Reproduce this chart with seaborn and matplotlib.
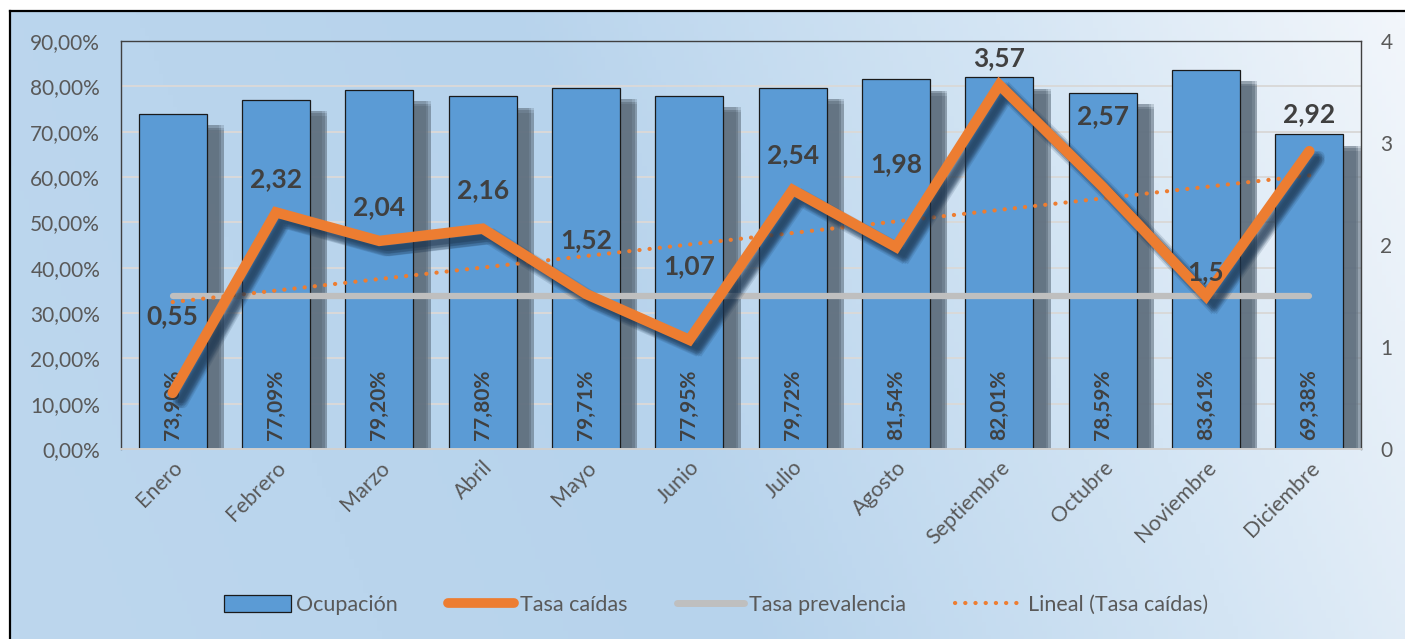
"""Ocupación mensual vs. tasa de caídas (barras + líneas, doble eje)."""

import matplotlib
matplotlib.use("Agg")

import matplotlib.patheffects as pe
import matplotlib.pyplot as plt
import numpy as np
import seaborn as sns
from matplotlib.colors import LinearSegmentedColormap
from matplotlib.lines import Line2D
from matplotlib.patches import Patch

MONTHS = ["Enero", "Febrero", "Marzo", "Abril", "Mayo", "Junio", "Julio",
          "Agosto", "Septiembre", "Octubre", "Noviembre", "Diciembre"]
OCUPACION = [73.90, 77.09, 79.20, 77.80, 79.71, 77.95, 79.72,
             81.54, 82.01, 78.59, 83.61, 69.38]
TASA_CAIDAS = [0.55, 2.32, 2.04, 2.16, 1.52, 1.07, 2.54,
               1.98, 3.57, 2.57, 1.5, 2.92]
TASA_PREVALENCIA = [1.5] * 12

# vertical offset (points) of each "Tasa caídas" label above its point
_LABEL_DY = [55, 24, 24, 28, 39, 53, 25, 60, 19, 51, 17, 27]

_BLUE   = "#5b9bd5"
_ORANGE = "#ed7d31"
_GRAY   = "#bfbfbf"
_TEXT   = "#595959"
_DARK   = "#404040"

W, H, DPI = 1405, 639, 100


def _fmt_pct(v: float) -> str:
    return f"{v:.2f}".replace(".", ",") + "%"


def _fmt_num(v: float) -> str:
    return f"{v:g}".replace(".", ",")


def _soft_shadow(offset, color, alpha, spread, line=False):
    """Stack a few offset shadows to fake a blurred drop shadow."""
    effects = []
    steps = [-spread, 0, spread]
    for dx in steps:
        for dy in steps:
            off = (offset[0] + dx, offset[1] + dy)
            if line:
                effects.append(pe.SimpleLineShadow(offset=off, shadow_color=color,
                                                   alpha=alpha))
            else:
                effects.append(pe.SimplePatchShadow(offset=off, shadow_rgbFace=color,
                                                    alpha=alpha))
    return effects + [pe.Normal()]


sns.set_theme(style="white")
plt.rcParams["font.family"] = ["Lato", "DejaVu Sans"]

fig = plt.figure(figsize=(W / DPI, H / DPI), dpi=DPI)

# ---------------------------------------------------------------------------
# Background panel with gradient + outer border
# ---------------------------------------------------------------------------
bg = fig.add_axes([10 / W, 0, 1 - 10 / W, (H - 11) / H], zorder=-10)
cmap = LinearSegmentedColormap.from_list(
    "bg", [(0.0, "#bdd7ee"), (0.45, "#b7d3ec"), (0.75, "#d4e5f4"), (1.0, "#f2f6fb")]
)
gx, gy = np.meshgrid(np.linspace(0, 1, 300), np.linspace(0, 1, 150))
grad = np.clip(0.85 * gx + 0.15 * gy, 0, 1)
bg.imshow(grad, cmap=cmap, aspect="auto", origin="lower", extent=[0, 1, 0, 1])
bg.set_xticks([])
bg.set_yticks([])
for side in ("right", "bottom"):
    bg.spines[side].set_visible(False)
for side in ("top", "left"):
    bg.spines[side].set_color("black")
    bg.spines[side].set_linewidth(1.6)

# ---------------------------------------------------------------------------
# Bars: Ocupación (left axis)
# ---------------------------------------------------------------------------
ax = fig.add_axes([121 / W, 1 - 449 / H, (1361 - 121) / W, (449 - 41) / H])
ax.patch.set_alpha(0)

sns.barplot(x=MONTHS, y=OCUPACION, color=_BLUE, saturation=1, width=0.66,
            edgecolor="#1a1a1a", linewidth=0.9, ax=ax)
for bar in ax.patches:
    bar.set_path_effects(_soft_shadow((10.5, -10), "#5f6f7e", 0.26, 1.8))

for i, v in enumerate(OCUPACION):
    ax.text(i, 2.0, _fmt_pct(v), rotation=90, ha="center", va="bottom",
            fontsize=15, fontweight="bold", color=_DARK)

ax.set_ylim(0, 90)
ax.set_xlim(-0.5, 11.5)
ax.set_yticks(np.arange(0, 91, 10))
ax.set_yticklabels([_fmt_pct(t) for t in np.arange(0, 91, 10)])
ax.yaxis.grid(True, color="#d9d9d9", linewidth=1.4)
ax.set_axisbelow(True)
ax.tick_params(axis="y", length=0, pad=15, labelsize=15, labelcolor=_TEXT)
ax.tick_params(axis="x", length=0, pad=6, labelsize=15.5, labelcolor=_TEXT)
plt.setp(ax.get_xticklabels(), rotation=45, ha="right", rotation_mode="anchor")
ax.set_xlabel("")
ax.set_ylabel("")
for side in ("top", "left", "right"):
    ax.spines[side].set_color(_DARK)
    ax.spines[side].set_linewidth(1.0)
ax.spines["bottom"].set_color("#d0d0d0")
ax.spines["bottom"].set_linewidth(1.4)

# ---------------------------------------------------------------------------
# Lines: Tasa caídas, Tasa prevalencia, linear trend (right axis)
# ---------------------------------------------------------------------------
ax2 = ax.twinx()
idx = np.arange(len(MONTHS))

_DOTS = (0, (0.05, 2.4))

sns.lineplot(x=idx, y=TASA_PREVALENCIA, color=_GRAY, linewidth=4.5,
             solid_capstyle="round", ax=ax2)
sns.regplot(x=idx, y=TASA_CAIDAS, scatter=False, ci=None, truncate=True,
            line_kws={"color": _ORANGE, "linewidth": 3.0, "linestyle": _DOTS,
                      "dash_capstyle": "round"}, ax=ax2)
sns.lineplot(x=idx, y=TASA_CAIDAS, color=_ORANGE, linewidth=7.5,
             solid_capstyle="round", solid_joinstyle="miter", ax=ax2)
ax2.lines[-1].set_path_effects(_soft_shadow((5.5, -5.5), "#1c3550", 0.15, 1.8, line=True))

for i, (v, dy) in enumerate(zip(TASA_CAIDAS, _LABEL_DY)):
    ax2.annotate(_fmt_num(v), (i, v), xytext=(0, dy), textcoords="offset points",
                 ha="center", va="center", fontsize=19, fontweight="bold",
                 color=_DARK)

ax2.set_ylim(0, 4)
ax2.set_xlim(-0.5, 11.5)
ax2.set_yticks(range(5))
ax2.set_yticklabels([str(t) for t in range(5)])
ax2.tick_params(axis="y", length=0, pad=14, labelsize=15, labelcolor=_TEXT)
ax2.set_xlabel("")
ax2.set_ylabel("")
for spine in ax2.spines.values():
    spine.set_visible(False)

# ---------------------------------------------------------------------------
# Legend
# ---------------------------------------------------------------------------
handles = [
    Patch(facecolor=_BLUE, edgecolor="#1a1a1a", linewidth=0.9),
    Line2D([], [], color=_ORANGE, linewidth=7, solid_capstyle="round"),
    Line2D([], [], color=_GRAY, linewidth=5, solid_capstyle="round"),
    Line2D([], [], color=_ORANGE, linewidth=3.0, linestyle=_DOTS,
           dash_capstyle="round"),
]
labels = ["Ocupación", "Tasa caídas", "Tasa prevalencia", "Lineal (Tasa caídas)"]
fig.legend(handles, labels, loc="center", bbox_to_anchor=(716 / W, 1 - 605 / H),
           ncol=4, frameon=False, fontsize=15.5, labelcolor=_TEXT,
           handlelength=3.1, handleheight=0.8, handletextpad=0.25, columnspacing=2.3)

fig.savefig("out.png", dpi=DPI, facecolor="white")
